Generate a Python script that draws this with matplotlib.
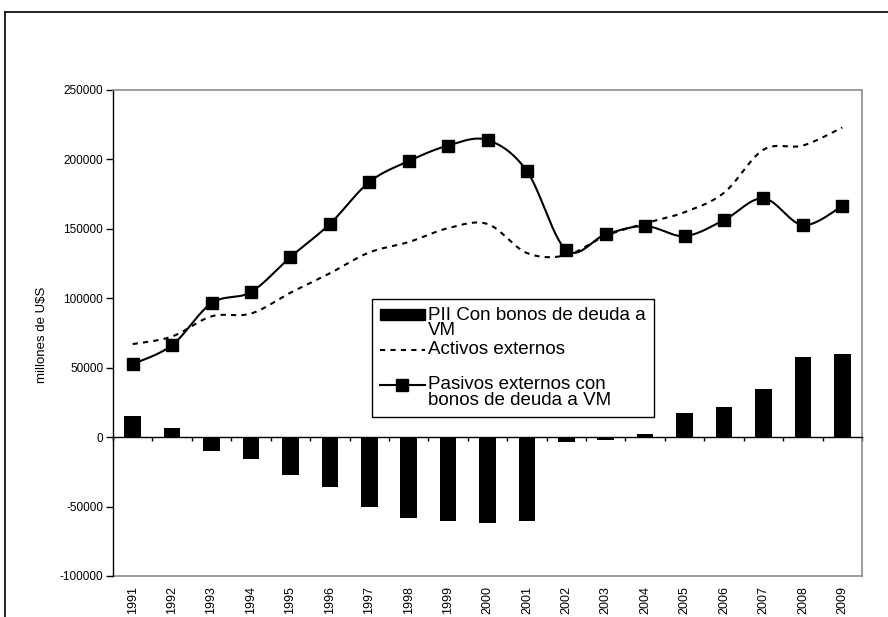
import numpy as np
import matplotlib
matplotlib.use("Agg")
import matplotlib.pyplot as plt
from matplotlib.patches import Patch
from matplotlib.lines import Line2D

plt.rcParams['font.family'] = ['Liberation Sans', 'DejaVu Sans']

anios = ['1991', '1992', '1993', '1994', '1995', '1996', '1997', '1998', '1999', '2000',
         '2001', '2002', '2003', '2004', '2005', '2006', '2007', '2008', '2009']

# PII con bonos de deuda a VM (barras)
pii = [15000, 6300, -9900, -15800, -27400, -36200, -50600, -58400, -60700, -61700,
       -60700, -3800, -2400, 2400, 17500, 21800, 34600, 57900, 59800]

activos = [67000, 72500, 87000, 89000, 104000, 118000, 133000, 140500, 150500, 153500,
           132600, 131000, 145000, 154000, 162000, 176000, 207000, 210000, 223000]

pasivos = [52600, 66300, 96500, 104500, 129700, 153500, 183700, 198800, 210000, 214000,
           191600, 134700, 146000, 152000, 144800, 156300, 172000, 152700, 166400]


def suavizar(x, y, n=30):
    # curva suavizada tipo Excel (Bezier / Catmull-Rom)
    x = np.asarray(x, float)
    y = np.asarray(y, float)
    px = np.concatenate([[x[0]], x, [x[-1]]])
    py = np.concatenate([[y[0]], y, [y[-1]]])
    xs, ys = [], []
    t = np.linspace(0, 1, n)
    for i in range(1, len(px) - 2):
        p0 = np.array([px[i], py[i]])
        p3 = np.array([px[i + 1], py[i + 1]])
        p1 = p0 + (np.array([px[i + 1], py[i + 1]]) - np.array([px[i - 1], py[i - 1]])) / 6
        p2 = p3 - (np.array([px[i + 2], py[i + 2]]) - np.array([px[i], py[i]])) / 6
        b = ((1 - t) ** 3)[:, None] * p0 + (3 * (1 - t) ** 2 * t)[:, None] * p1 \
            + (3 * (1 - t) * t ** 2)[:, None] * p2 + (t ** 3)[:, None] * p3
        xs.extend(b[:, 0])
        ys.extend(b[:, 1])
    return np.array(xs), np.array(ys)


x = np.arange(len(anios))

fig = plt.figure(figsize=(8.88, 6.17), dpi=100)
ax = fig.add_axes([113 / 888, 1 - 576 / 617, (862 - 113) / 888, (576 - 90) / 617])

ax.bar(x, pii, width=0.42, color='black', zorder=2)

xa, ya = suavizar(x, activos)
ax.plot(xa, ya, color='black', lw=1.5, ls=(0, (2.5, 2.5)), zorder=3)

xp, yp = suavizar(x, pasivos)
ax.plot(xp, yp, color='black', lw=1.5, zorder=4)
ax.plot(x, pasivos, ls='none', marker='s', ms=8.4, color='black', zorder=5)

ax.set_xlim(-0.5, len(anios) - 0.5)
ax.set_ylim(-100000, 250000)
ax.set_yticks(np.arange(-100000, 250001, 50000))
ax.set_yticklabels([str(v) for v in range(-100000, 250001, 50000)], fontsize=8.5)
ax.tick_params(axis='y', direction='out', length=5, width=1, pad=2)

# eje x en el cero con marcas entre categorías
ax.spines['bottom'].set_position(('data', 0))
ax.spines['bottom'].set_color('black')
ax.spines['bottom'].set_linewidth(1)
ax.set_xticks(np.arange(-0.5, len(anios), 1.0))
ax.set_xticklabels([])
ax.tick_params(axis='x', direction='out', length=3, width=1)

for s in ['top', 'right']:
    ax.spines[s].set_color('#8c8c8c')
    ax.spines[s].set_linewidth(1.2)
ax.spines['left'].set_linewidth(1)

sec = ax.secondary_xaxis(0)
sec.set_xticks(x)
sec.set_xticklabels(anios, rotation=90, fontsize=9)
sec.tick_params(length=0, pad=7)
sec.spines['bottom'].set_color('#8c8c8c')
sec.spines['bottom'].set_linewidth(1.2)

fig.text(42 / 888, 1 - 335 / 617, 'millones de U$S', rotation=90, fontsize=9.5,
         ha='center', va='center')

handles = [Patch(facecolor='black', edgecolor='black'),
           Line2D([], [], color='black', lw=1.5, ls=(0, (2.5, 2.5))),
           Line2D([], [], color='black', lw=1.5, marker='s', ms=8)]
labels = ['PII Con bonos de deuda a\nVM', 'Activos externos\n',
          'Pasivos externos con\nbonos de deuda a VM']
leg = fig.legend(handles, labels, loc='upper left',
                 bbox_to_anchor=(372 / 888, 1 - 299 / 617), fontsize=13.5,
                 frameon=True, fancybox=False, edgecolor='black', framealpha=1,
                 borderpad=0.4, labelspacing=0.12, handlelength=2.4, handletextpad=0.2,
                 handleheight=0.5, borderaxespad=0)
leg.get_frame().set_linewidth(1)
for t in leg.get_texts():
    t.set_linespacing(0.9)
# los símbolos se alinean con la primera línea del texto
for h in leg.legend_handles:
    if isinstance(h, Line2D):
        h.set_ydata(np.asarray(h.get_ydata()) + 6)
    else:
        h.set_y(h.get_y() + 6)

# marco exterior del gráfico
fig.add_artist(Line2D([5 / 888, 5 / 888], [0, 1 - 12 / 617], color='black', lw=1.2,
                      transform=fig.transFigure))
fig.add_artist(Line2D([5 / 888, 1], [1 - 12 / 617, 1 - 12 / 617], color='black', lw=1.2,
                      transform=fig.transFigure))

fig.savefig('out.png', dpi=100)
